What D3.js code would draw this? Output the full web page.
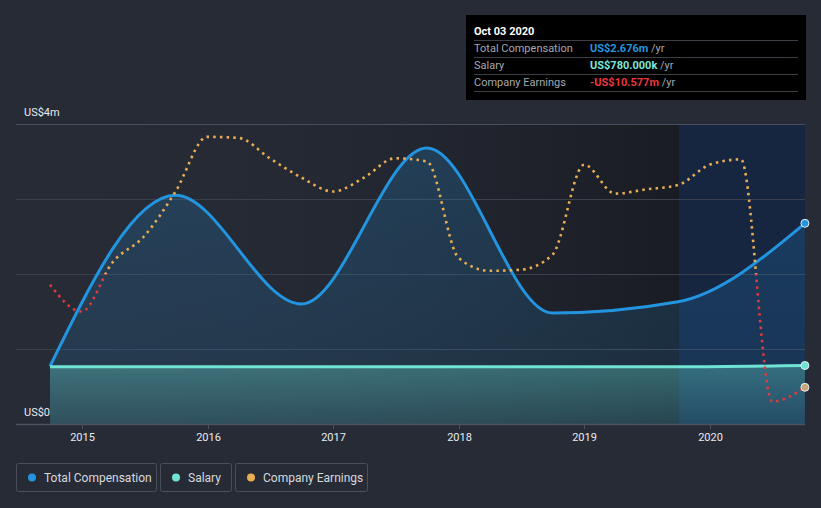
<!DOCTYPE html>
<html><head><meta charset="utf-8">
<script src="https://cdnjs.cloudflare.com/ajax/libs/d3/7.8.5/d3.min.js"></script>
<style>
html,body{margin:0;padding:0;background:#262b36;}
svg{display:block;font-family:Roboto,"Noto Sans",sans-serif;}
</style></head>
<body><svg id="c" width="821" height="508"></svg>
<script>
// ---- data ----
const compDates = ["2014-09-30","2015-09-30","2016-09-30","2017-09-30","2018-09-30","2019-09-30","2020-10-03"];
const totalComp = [0.77, 3.05, 1.60, 3.68, 1.48, 1.63, 2.676];          // US$ m
const salaryDates = ["2014-09-30","2019-09-30","2020-10-03"];
const salary = [0.762, 0.762, 0.78];                                    // US$ m
const earnDates = ["2014-09-30","2014-12-31","2015-03-31","2015-06-30","2015-09-30","2015-12-31",
  "2016-03-31","2016-06-30","2016-09-30","2016-12-31","2017-03-31","2017-06-30","2017-09-30",
  "2017-12-31","2018-03-31","2018-06-30","2018-09-30","2018-12-31","2019-03-31","2019-06-30",
  "2019-09-30","2019-12-31","2020-03-31","2020-06-30","2020-10-03"];
const earnings = [-1.0, -3.5, 1.1, 3.5, 7.7, 12.8, 12.7, 10.8, 9.0, 7.7, 9.0, 10.8, 10.5,
  1.5, 0.3, 0.4, 1.8, 10.2, 7.5, 7.9, 8.3, 10.2, 10.7, -11.9, -10.577];   // US$ m
const yTicks = [0, 1, 2, 3, 4];
const yTickLabels = {0: "US$0", 4: "US$4m"};
const xTickYears = [2015, 2016, 2017, 2018, 2019, 2020];
const legendItems = ["Total Compensation", "Salary", "Company Earnings"];
const tooltipTitle = "Oct 03 2020";
const tooltipRows = [["Total Compensation","US$2.676m"],["Salary","US$780.000k"],["Company Earnings","-US$10.577m"]];

// ---- setup ----
const parse = d3.utcParse("%Y-%m-%d");
const svg = d3.select("#c");
const W = 821;
const x = d3.scaleUtc().domain([parse("2015-01-01"), parse("2020-01-01")]).range([82, 710]);
const y = d3.scaleLinear().domain([0, 4]).range([424, 124]);
const yE = d3.scaleLinear().domain([-14, 14]).range([424, 124]);
const x0 = x(parse(compDates[0])), x1 = x(parse(compDates[compDates.length-1]));
const COL = {tc:"#2394df", sal:"#6fe3d4", earn:"#e9ae52", neg:"#e0393e"};

const defs = svg.append("defs");
const g1 = defs.append("linearGradient").attr("id","bgdark").attr("x1",0).attr("x2",1).attr("y1",0).attr("y2",0);
g1.append("stop").attr("offset",0).attr("stop-color","#262b36").attr("stop-opacity",0);
g1.append("stop").attr("offset",1).attr("stop-color","#1a1c23").attr("stop-opacity",1);
const g2 = defs.append("linearGradient").attr("id","tcfill").attr("x1",0).attr("x2",0).attr("y1",0).attr("y2",1);
g2.append("stop").attr("offset",0).attr("stop-color",COL.tc).attr("stop-opacity",0.22);
g2.append("stop").attr("offset",1).attr("stop-color",COL.tc).attr("stop-opacity",0.12);
const g3 = defs.append("linearGradient").attr("id","salfill").attr("x1",0).attr("x2",0).attr("y1",0).attr("y2",1);
g3.append("stop").attr("offset",0).attr("stop-color",COL.sal).attr("stop-opacity",0.33);
g3.append("stop").attr("offset",1).attr("stop-color",COL.sal).attr("stop-opacity",0.14);
const zeroY = yE(0);
const g4 = defs.append("linearGradient").attr("id","earnstroke").attr("gradientUnits","userSpaceOnUse")
  .attr("x1",0).attr("x2",0).attr("y1",124).attr("y2",424);
const zf = (zeroY-124)/300;
g4.append("stop").attr("offset",zf).attr("stop-color",COL.earn);
g4.append("stop").attr("offset",zf).attr("stop-color",COL.neg);

// background regions
svg.append("rect").attr("x",x0).attr("y",124).attr("width",x(parse("2019-10-03"))-x0).attr("height",300).attr("fill","url(#bgdark)");
svg.append("rect").attr("x",x(parse("2019-10-03"))).attr("y",124).attr("width",x1-x(parse("2019-10-03"))).attr("height",300).attr("fill","#172640");

// grid
svg.append("g").selectAll("line").data(yTicks).join("line")
  .attr("x1",16).attr("x2",x1).attr("y1",d=>y(d)).attr("y2",d=>y(d))
  .attr("stroke",d=>d===4?"#485060":"#3a404c").attr("stroke-width",1).attr("shape-rendering","crispEdges");

// y labels
svg.append("g").selectAll("text").data(yTicks.filter(d=>yTickLabels[d])).join("text")
  .attr("x",24).attr("y",d=>y(d)-8).attr("fill","#e8eaee").attr("font-size",11).text(d=>yTickLabels[d]);

// series
const tcData = compDates.map((d,i)=>({d:parse(d),v:totalComp[i]}));
const salData = salaryDates.map((d,i)=>({d:parse(d),v:salary[i]}));
const earnData = earnDates.map((d,i)=>({d:parse(d),v:earnings[i]}));
const curve = d3.curveMonotoneX;

svg.append("path").datum(tcData).attr("fill","url(#tcfill)")
  .attr("d", d3.area().x(d=>x(d.d)).y0(y(0)).y1(d=>y(d.v)).curve(curve));
svg.append("path").datum(salData).attr("fill","url(#salfill)")
  .attr("d", d3.area().x(d=>x(d.d)).y0(y(0)).y1(d=>y(d.v)).curve(curve));
svg.append("path").datum(tcData).attr("fill","none").attr("stroke",COL.tc).attr("stroke-width",3)
  .attr("d", d3.line().x(d=>x(d.d)).y(d=>y(d.v)).curve(curve));
svg.append("path").datum(salData).attr("fill","none").attr("stroke",COL.sal).attr("stroke-width",3)
  .attr("d", d3.line().x(d=>x(d.d)).y(d=>y(d.v)).curve(curve));
svg.append("path").datum(earnData).attr("fill","none").attr("stroke","url(#earnstroke)").attr("stroke-width",2.6)
  .attr("stroke-dasharray","2.5,4.2")
  .attr("d", d3.line().x(d=>x(d.d)).y(d=>yE(d.v)).curve(curve));

// end markers
const ends = [
  {cx:x(tcData[tcData.length-1].d), cy:y(tcData[tcData.length-1].v), f:COL.tc},
  {cx:x(salData[salData.length-1].d), cy:y(salData[salData.length-1].v), f:COL.sal},
  {cx:x(earnData[earnData.length-1].d), cy:yE(earnData[earnData.length-1].v), f:"#c9a57a"}];
svg.append("g").selectAll("circle").data(ends).join("circle")
  .attr("cx",d=>d.cx).attr("cy",d=>d.cy).attr("r",4).attr("fill",d=>d.f).attr("stroke","#e6eef5").attr("stroke-width",1);

// x axis
svg.append("line").attr("x1",16).attr("x2",x1).attr("y1",424.5).attr("y2",424.5).attr("stroke","#4d5360").attr("stroke-width",1.5);
const xt = svg.append("g").selectAll("g").data(xTickYears).join("g")
  .attr("transform",d=>`translate(${Math.round(x(parse(d+"-01-01")))+0.5},0)`);
xt.append("line").attr("y1",424).attr("y2",429).attr("stroke","#4d5360");
xt.append("text").attr("y",441).attr("text-anchor","middle").attr("fill","#e8eaee").attr("font-size",11).text(d=>d);

// legend
const legX = [16, 160, 235], legW = [140, 71, 132], legCol = [COL.tc, COL.sal, COL.earn];
const lg = svg.append("g").selectAll("g").data(legendItems).join("g").attr("transform",(d,i)=>`translate(${legX[i]},463)`);
lg.append("rect").attr("x",0.5).attr("y",0.5).attr("width",(d,i)=>legW[i]).attr("height",28).attr("rx",2)
  .attr("fill","none").attr("stroke","#4a4f5b");
lg.append("circle").attr("cx",16).attr("cy",14.5).attr("r",4).attr("fill",(d,i)=>legCol[i]);
lg.append("text").attr("x",28).attr("y",18.5).attr("fill","#d6d9de").attr("font-size",12).text(d=>d);

// tooltip
const tt = svg.append("g").attr("transform","translate(466,15)");
tt.append("rect").attr("width",340).attr("height",85).attr("fill","#000");
tt.append("text").attr("x",8).attr("y",20).attr("fill","#fff").attr("font-size",11).attr("font-weight","bold").text(tooltipTitle);
const valCols = [COL.tc, "#7ee6d8", "#e8383d"];
tooltipRows.forEach((r,i)=>{
  const yy = 25 + i*17;
  tt.append("line").attr("x1",8).attr("x2",332).attr("y1",yy+0.5).attr("y2",yy+0.5).attr("stroke","#3c3f45");
  tt.append("text").attr("x",8).attr("y",yy+12).attr("fill","#a5a8ad").attr("font-size",11).text(r[0]);
  const t = tt.append("text").attr("x",124).attr("y",yy+12).attr("font-size",11);
  t.append("tspan").attr("fill",valCols[i]).attr("font-weight","bold").text(r[1]);
  t.append("tspan").attr("fill","#a5a8ad").text(" /yr");
});
tt.append("line").attr("x1",8).attr("x2",332).attr("y1",76.5).attr("y2",76.5).attr("stroke","#3c3f45");
</script></body></html>
